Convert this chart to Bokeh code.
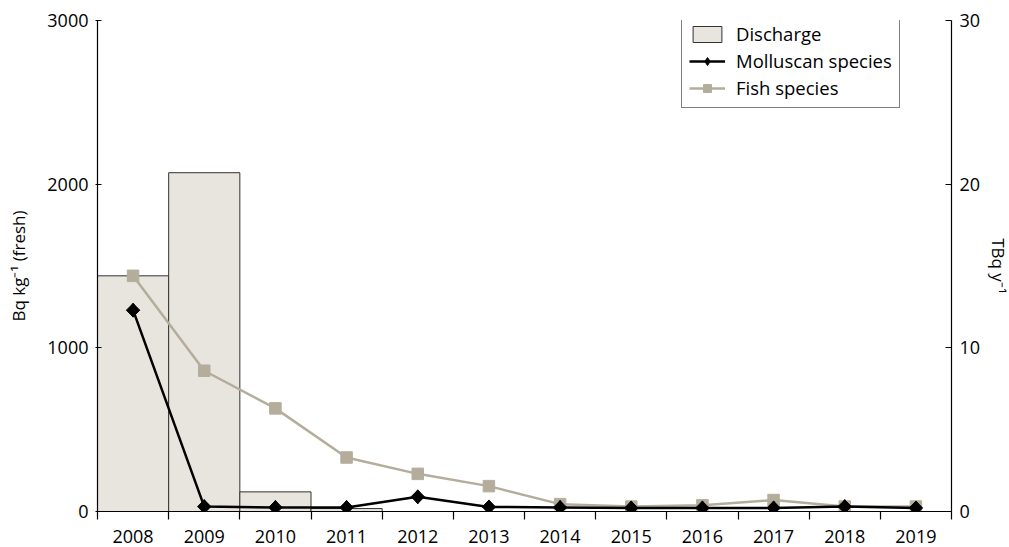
import math
from bokeh.plotting import figure
from bokeh.models import (Range1d, LinearAxis, FixedTicker, Legend, LegendItem)
from bokeh.embed import file_html
from bokeh.resources import INLINE

years = [2008, 2009, 2010, 2011, 2012, 2013, 2014, 2015, 2016, 2017, 2018, 2019]
discharge_tbq = [14.4, 20.7, 1.2, 0.18, 0, 0, 0, 0, 0, 0, 0, 0]
molluscan = [1230, 30, 25, 25, 90, 28, 25, 22, 22, 22, 30, 22]
fish = [1440, 860, 630, 330, 230, 155, 45, 30, 38, 70, 30, 30]
left_ticks = [0, 1000, 2000, 3000]
right_ticks = [0, 10, 20, 30]

FONT = "Open Sans"
BAR_FILL = "#e8e4de"
FISH = "#b5ad9c"

n = len(years)
centers = [i + 0.5 for i in range(n)]
bounds = list(range(n + 1))

p = figure(frame_width=854, frame_height=491, output_backend="svg",
           toolbar_location=None, x_range=Range1d(0, n), y_range=Range1d(0, 3000),
           min_border_left=97, min_border_right=50, min_border_top=20, min_border_bottom=36,
           x_axis_type=None, y_axis_type=None)
p.outline_line_color = None
p.xgrid.visible = False
p.ygrid.visible = False
p.extra_y_ranges = {"tbq": Range1d(0, 30)}

bars = p.vbar(x=centers, top=discharge_tbq, width=1, bottom=0, y_range_name="tbq",
              fill_color=BAR_FILL, line_color="#333333", line_width=1)
fl = p.line(centers, fish, line_color=FISH, line_width=2.5)
fs = p.scatter(centers, fish, marker="square", size=11.5, fill_color=FISH, line_color=FISH)
ml = p.line(centers, molluscan, line_color="black", line_width=2.5)
# diamond drawn under the rotated square; used as the legend key
ms_key = p.scatter(centers, molluscan, marker="diamond", size=14, fill_color="black", line_color="black")
ms = p.scatter(centers, molluscan, marker="square", angle=math.pi / 4, size=9.5,
               fill_color="black", line_color="black")

def style(ax):
    ax.axis_line_color = "black"
    ax.axis_line_width = 1.2
    ax.major_tick_line_color = "black"
    ax.major_tick_line_width = 1.2
    ax.major_tick_out = 0
    ax.major_tick_in = 6
    ax.minor_tick_line_color = None
    ax.major_label_text_font = FONT
    ax.major_label_text_font_size = "18px"
    ax.major_label_text_color = "black"
    ax.axis_label_text_font = FONT
    ax.axis_label_text_font_size = "17px"
    ax.axis_label_text_font_style = "normal"
    ax.axis_label_text_color = "black"

xa = LinearAxis(ticker=FixedTicker(ticks=centers, minor_ticks=bounds))
style(xa)
xa.major_tick_in = 0
xa.minor_tick_line_color = "black"
xa.minor_tick_line_width = 1.2
xa.minor_tick_out = 8
xa.minor_tick_in = 0
xa.major_label_standoff = 10
xa.major_label_overrides = {c: str(y) for c, y in zip(centers, years)}
p.add_layout(xa, "below")

ya = LinearAxis(ticker=FixedTicker(ticks=left_ticks), axis_label="Bq kg\u207b\u00b9 (fresh)")
style(ya)
ya.major_tick_out = 2
ya.major_tick_in = 4
ya.major_label_standoff = 7
ya.axis_label_standoff = 14
p.add_layout(ya, "left")

yr = LinearAxis(y_range_name="tbq", ticker=FixedTicker(ticks=right_ticks), axis_label="TBq y\u207b\u00b9")
style(yr)
yr.major_label_standoff = 8
yr.axis_label_standoff = 4
p.add_layout(yr, "right")

legend = Legend(items=[
    LegendItem(label="Discharge", renderers=[bars]),
    LegendItem(label="Molluscan species", renderers=[ml, ms_key]),
    LegendItem(label="Fish species", renderers=[fl, fs]),
], location=(584, 403))
legend.border_line_color = "black"
legend.border_line_width = 1.2
legend.background_fill_alpha = 1
legend.label_text_font = FONT
legend.label_text_font_size = "18.5px"
legend.label_text_color = "black"
legend.glyph_width = 36
legend.glyph_height = 20
legend.label_height = 20
legend.spacing = 2
legend.padding = 7
legend.margin = 0
legend.label_standoff = 11
p.add_layout(legend, "center")

open("out.html", "w").write(file_html(p, INLINE))
